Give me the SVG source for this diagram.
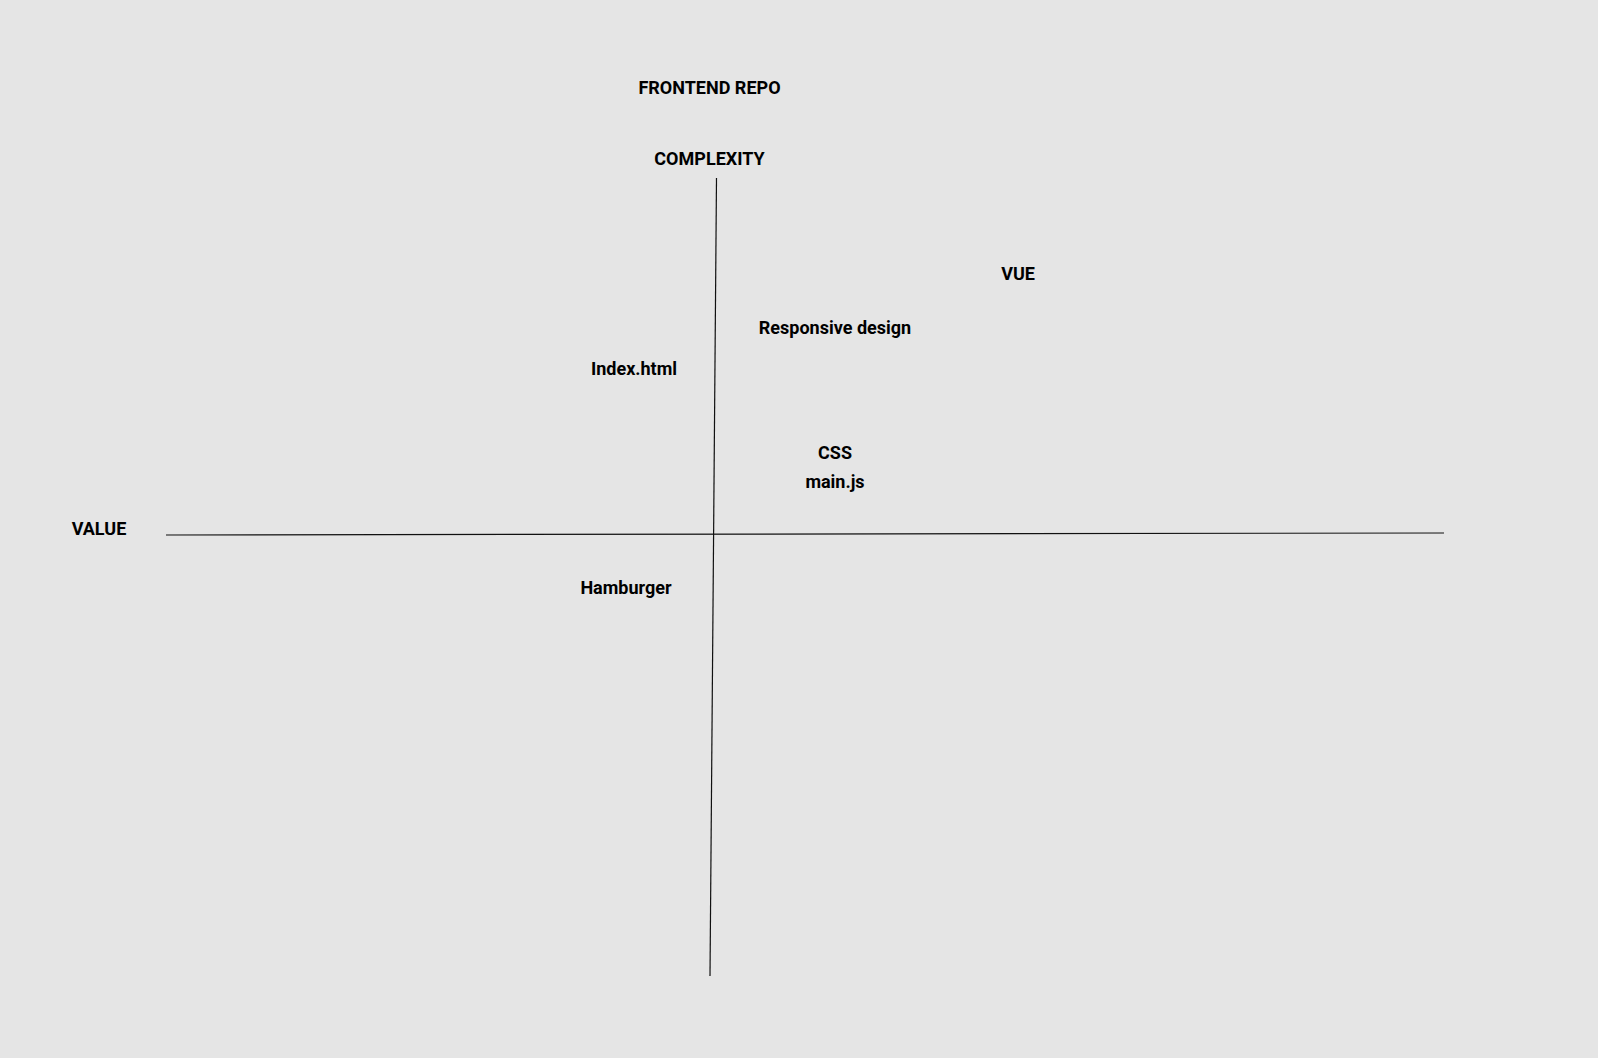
<svg xmlns="http://www.w3.org/2000/svg" width="1598" height="1058" viewBox="0 0 1598 1058">
  <style>
    .lbl { font-family: Roboto, "Liberation Sans", sans-serif; font-weight: bold; font-size: 18px; fill: #000000; text-anchor: middle; }
    .axis { stroke: #111111; stroke-width: 1.2; fill: none; }
  </style>
  <rect x="0" y="0" width="1598" height="1058" fill="#e5e5e5"/>
  <g id="connectors">
    <line class="axis" x1="716.5" y1="178" x2="710" y2="976"/>
    <line class="axis" x1="166" y1="535" x2="1444" y2="533"/>
  </g>
  <g id="title"><text class="lbl" x="709.5" y="94">FRONTEND REPO</text></g>
  <g id="complexity"><text class="lbl" x="709.5" y="165">COMPLEXITY</text></g>
  <g id="value"><text class="lbl" x="99" y="535">VALUE</text></g>
  <g id="vue"><text class="lbl" x="1018" y="280">VUE</text></g>
  <g id="responsive"><text class="lbl" x="835" y="334">Responsive design</text></g>
  <g id="index"><text class="lbl" x="634" y="375">Index.html</text></g>
  <g id="css"><text class="lbl" x="835" y="459">CSS</text></g>
  <g id="mainjs"><text class="lbl" x="835" y="488">main.js</text></g>
  <g id="hamburger"><text class="lbl" x="626" y="594">Hamburger</text></g>
</svg>
